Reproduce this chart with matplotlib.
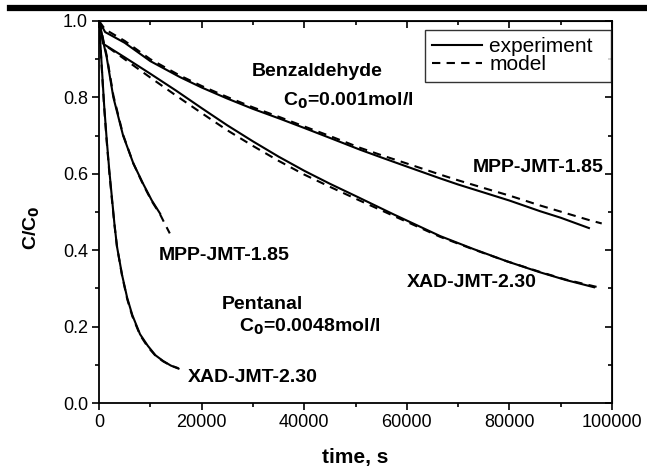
import matplotlib
matplotlib.use("Agg")
from matplotlib import pyplot as plt
from matplotlib.lines import Line2D
from matplotlib.ticker import MultipleLocator, FormatStrFormatter

plt.rcParams["font.family"] = ["Liberation Sans", "DejaVu Sans"]

# Benzaldehyde, MPP-JMT-1.85
benz_mpp_t = [0, 1200, 5000, 10000, 15800, 20000, 25000, 30000, 35300, 40000, 45000,
              50900, 55000, 60000, 66500, 70000, 76200, 80000, 86000, 90000, 95500]
benz_mpp_exp = [1.0, 0.971, 0.943, 0.895, 0.853, 0.826, 0.797, 0.770, 0.744, 0.720, 0.694,
                0.663, 0.643, 0.619, 0.588, 0.572, 0.546, 0.530, 0.502, 0.485, 0.458]
benz_mpp_model_t = benz_mpp_t + [98000]
benz_mpp_model = [1.0, 0.978, 0.948, 0.900, 0.857, 0.830, 0.801, 0.774, 0.748, 0.724, 0.699,
                  0.668, 0.649, 0.627, 0.598, 0.583, 0.558, 0.543, 0.517, 0.501, 0.479, 0.470]

# Benzaldehyde, XAD-JMT-2.30
benz_xad_t = [0, 850, 5000, 10000, 15000, 20000, 25000, 30000, 35000, 40000, 45000,
              50000, 57400, 66500, 73000, 79500, 86000, 91000, 96500]
benz_xad_exp = [1.0, 0.940, 0.905, 0.862, 0.818, 0.772, 0.727, 0.685, 0.645, 0.608, 0.574,
                0.542, 0.494, 0.437, 0.403, 0.371, 0.342, 0.322, 0.303]
benz_xad_model_t = benz_xad_t[:-1] + [97000]
benz_xad_model = [1.0, 0.940, 0.900, 0.852, 0.805, 0.759, 0.714, 0.673, 0.634, 0.598, 0.566,
                  0.535, 0.490, 0.435, 0.402, 0.371, 0.343, 0.323, 0.304]

# Pentanal, MPP-JMT-1.85
pent_mpp_t = [0, 500, 1000, 1500, 2800, 4700, 6700, 8600, 10300, 11900]
pent_mpp_exp = [1.0, 0.970, 0.935, 0.905, 0.800, 0.700, 0.627, 0.574, 0.530, 0.496]
pent_mpp_model_t = pent_mpp_t + [12800, 13800]
pent_mpp_model = [1.0, 0.972, 0.940, 0.910, 0.805, 0.702, 0.627, 0.572, 0.528, 0.494, 0.470, 0.444]

# Pentanal, XAD-JMT-2.30
pent_xad_t = [0, 500, 1000, 1500, 2000, 2500, 3000, 3500, 4500, 5500, 6500, 8000,
              9500, 11000, 12500, 14000, 15500]
pent_xad_exp = [1.0, 0.890, 0.780, 0.690, 0.610, 0.540, 0.470, 0.410, 0.335, 0.275, 0.230,
                0.180, 0.150, 0.125, 0.110, 0.098, 0.090]
pent_xad_model = [1.0, 0.885, 0.775, 0.685, 0.605, 0.535, 0.468, 0.410, 0.333, 0.272, 0.227,
                  0.178, 0.147, 0.124, 0.109, 0.098, 0.091]

fig = plt.figure(figsize=(6.47, 4.69), dpi=100)
ax = fig.add_axes([99 / 647, 66 / 469, 513 / 647, 382 / 469])

lw = 1.5
dash = (0, (4, 3))
ax.plot(benz_mpp_t, benz_mpp_exp, color="black", lw=lw)
ax.plot(benz_mpp_model_t, benz_mpp_model, color="black", lw=lw, linestyle=dash)
ax.plot(benz_xad_t, benz_xad_exp, color="black", lw=lw)
ax.plot(benz_xad_model_t, benz_xad_model, color="black", lw=lw, linestyle=dash)
ax.plot(pent_mpp_t, pent_mpp_exp, color="black", lw=lw)
ax.plot(pent_mpp_model_t, pent_mpp_model, color="black", lw=lw, linestyle=dash)
ax.plot(pent_xad_t, pent_xad_exp, color="black", lw=lw)
ax.plot(pent_xad_t, pent_xad_model, color="black", lw=lw, linestyle=dash)

ax.set_xlim(0, 100000)
ax.set_ylim(0.0, 1.0)
ax.xaxis.set_major_locator(MultipleLocator(20000))
ax.xaxis.set_minor_locator(MultipleLocator(10000))
ax.yaxis.set_major_locator(MultipleLocator(0.2))
ax.yaxis.set_minor_locator(MultipleLocator(0.1))
ax.yaxis.set_major_formatter(FormatStrFormatter("%.1f"))
ax.tick_params(which="both", direction="out", width=1.2, labelsize=13, pad=3)
ax.tick_params(which="major", length=5)
ax.tick_params(which="minor", length=3)
for s in ax.spines.values():
    s.set_linewidth(1.3)

top = ax.secondary_xaxis("top")
top.xaxis.set_major_locator(MultipleLocator(20000))
top.xaxis.set_minor_locator(MultipleLocator(10000))
top.tick_params(which="both", direction="in", labeltop=False, width=1.2)
top.tick_params(which="major", length=5)
top.tick_params(which="minor", length=3)
right = ax.secondary_yaxis("right")
right.yaxis.set_major_locator(MultipleLocator(0.2))
right.yaxis.set_minor_locator(MultipleLocator(0.1))
right.tick_params(which="both", direction="in", labelright=False, width=1.2)
right.tick_params(which="major", length=5)
right.tick_params(which="minor", length=3)

ax.set_xlabel("time, s", fontsize=15, fontweight="bold", labelpad=12)
ax.set_ylabel("C/C$_\\mathbf{0}$", fontsize=14, fontweight="bold")
ax.yaxis.set_label_coords(-0.112, 0.46)

bold = dict(fontsize=14, fontweight="bold", va="center")
ax.text(29800, 0.868, "Benzaldehyde", ha="left", **bold)
ax.text(35900, 0.79, "C$_\\mathbf{0}$=0.001mol/l", ha="left", **bold)
ax.text(72800, 0.617, "MPP-JMT-1.85", ha="left", **bold)
ax.text(60000, 0.315, "XAD-JMT-2.30", ha="left", **bold)
ax.text(11600, 0.387, "MPP-JMT-1.85", ha="left", **bold)
ax.text(23900, 0.257, "Pentanal", ha="left", **bold)
ax.text(27300, 0.20, "C$_\\mathbf{0}$=0.0048mol/l", ha="left", **bold)
ax.text(17400, 0.066, "XAD-JMT-2.30", ha="left", **bold)

handles = [Line2D([], [], color="black", lw=lw),
           Line2D([], [], color="black", lw=lw, linestyle=dash)]
leg = ax.legend(handles, ["experiment  ", "model"], loc="upper right",
                bbox_to_anchor=(0.999, 0.976), fontsize=15, frameon=True,
                fancybox=False, handlelength=2.4, handletextpad=0.35,
                borderpad=0.35, labelspacing=-0.05, borderaxespad=0)
leg.get_frame().set_edgecolor("black")
leg.get_frame().set_linewidth(1.0)

# thick rule at the top of the page
fig.add_artist(Line2D([0.015, 1.0], [0.984, 0.984], color="black", lw=4.5))

fig.savefig("out.png", dpi=100)
